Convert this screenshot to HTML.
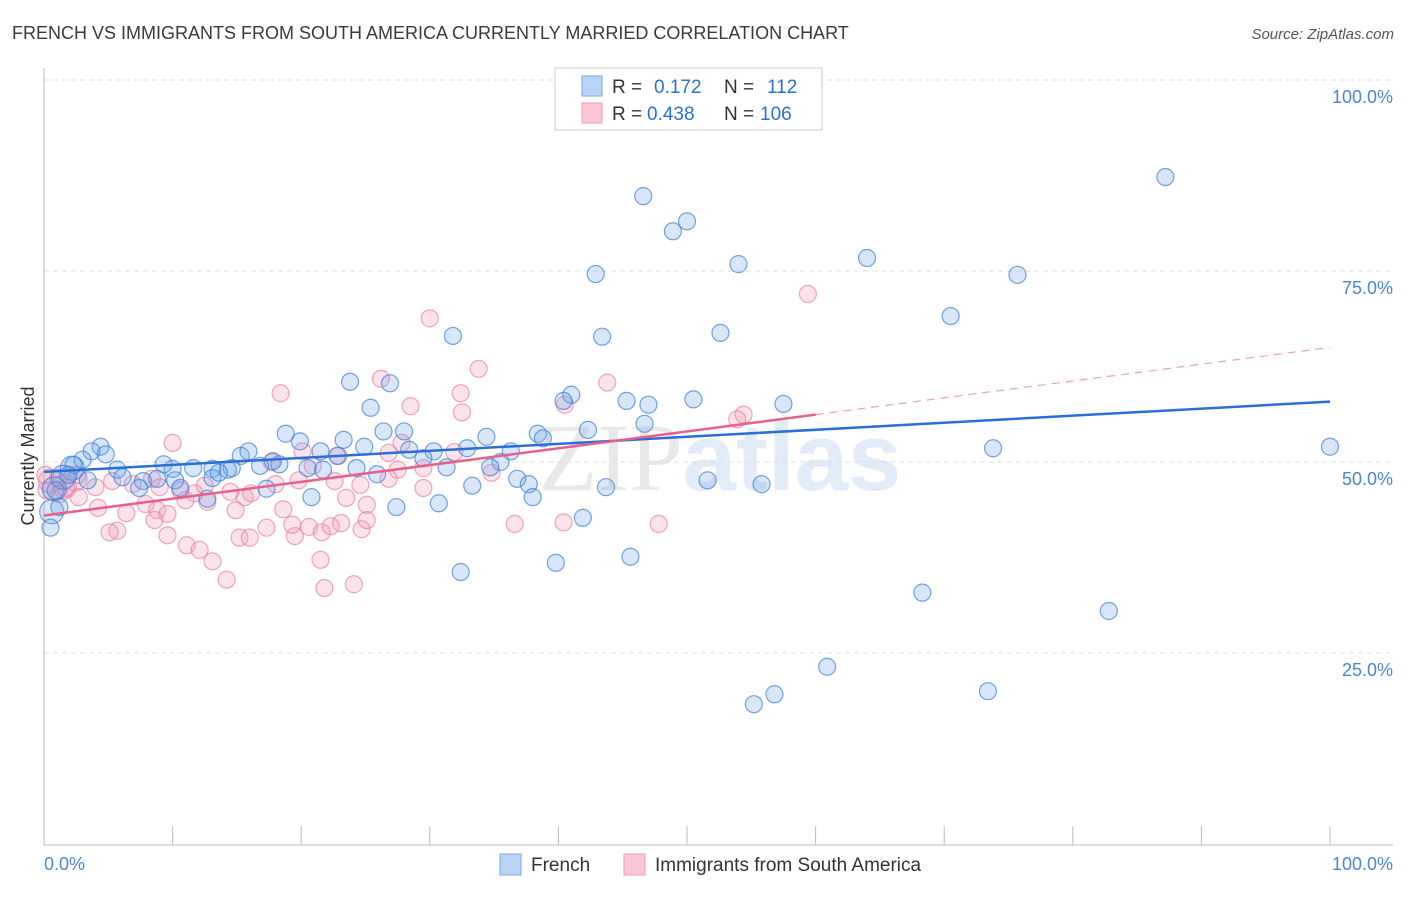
<!DOCTYPE html>
<html><head><meta charset="utf-8"><style>
body{margin:0;background:#fff;font-family:"Liberation Sans",sans-serif}
svg text{font-family:"Liberation Sans",sans-serif}
</style></head><body>
<svg id="chart" width="1406" height="892" xmlns="http://www.w3.org/2000/svg">
<text x="12" y="39" font-size="18" fill="#3a3a3a">FRENCH VS IMMIGRANTS FROM SOUTH AMERICA CURRENTLY MARRIED CORRELATION CHART</text>
<text x="1394" y="39" font-size="15" fill="#555" text-anchor="end" font-style="italic">Source: ZipAtlas.com</text>
<text x="720" y="490" font-size="96" text-anchor="middle"><tspan fill="#e8e8e8" font-family="Liberation Serif">ZIP</tspan><tspan fill="#e1ecf8" font-weight="bold">atlas</tspan></text>
<g id="grid"></g>
<g id="axes"></g>
<g id="pts"></g>
<g id="trends"></g>
<text transform="translate(34,456) rotate(-90)" font-size="18" fill="#333" text-anchor="middle">Currently Married</text>
<g>
<rect x="555" y="68" width="267" height="62" fill="#fff" stroke="#ccc"/>
<rect x="582" y="76" width="20" height="20" fill="#b9d3f5" stroke="#7aa8e6"/>
<rect x="582" y="103" width="20" height="20" fill="#fbc6d6" stroke="#f09ab5"/>
<text x="612" y="93" font-size="19" fill="#333">R =</text>
<text x="654" y="93" font-size="19" fill="#2a6fd6">0.172</text>
<text x="724" y="93" font-size="19" fill="#333">N =</text>
<text x="767" y="93" font-size="19" fill="#2a6fd6">112</text>
<text x="612" y="120" font-size="19" fill="#333">R =</text>
<text x="647" y="120" font-size="19" fill="#2a6fd6">0.438</text>
<text x="724" y="120" font-size="19" fill="#333">N =</text>
<text x="760" y="120" font-size="19" fill="#2a6fd6">106</text>
</g>
<g>
<rect x="500" y="854" width="21" height="21" fill="#b9d3f5" stroke="#7aa8e6"/>
<text x="531" y="871" font-size="19" fill="#333">French</text>
<rect x="624" y="854" width="21" height="21" fill="#fbc6d6" stroke="#f09ab5"/>
<text x="655" y="871" font-size="19" fill="#333">Immigrants from South America</text>
</g>
</svg>
<script>
const yTicks=[25,50,75,100];
const yTickLabels=["25.0%","50.0%","75.0%","100.0%"];
const xTicks=[0,10,20,30,40,50,60,70,80,90,100];
const blueX=[87.2,46.6,50.0,48.9,54.0,64.0,42.9,75.7,70.5,52.6,31.8,43.4,23.8,26.9,41.0,40.4,45.3,50.5,47.0,57.5,25.4,46.7,42.3,26.4,28.0,18.8,38.4,38.8,34.4,19.9,23.3,32.9,30.3,100,73.8,15.3,15.9,21.5,24.9,4.4,3.7,4.8,36.3,22.8,28.4,29.5,3.0,2.3,9.3,17.8,18.3,35.5,11.6,13.1,14.6,20.5,24.3,31.3,34.7,5.7,10.0,16.8,14.3,21.7,6.1,7.7,8.8,10.2,13.1,13.6,25.9,36.8,37.7,51.6,55.8,33.3,43.7,7.4,10.6,17.3,12.7,20.8,38.0,30.7,27.4,41.9,1.2,0.5,32.4,39.8,45.6,68.3,82.8,60.9,73.4,56.8,55.2,1.9,0.9,3.4];
const blueY=[87.3,84.8,81.5,80.2,75.9,76.7,74.6,74.5,69.1,66.9,66.5,66.4,60.5,60.3,58.8,58.0,58.0,58.2,57.5,57.6,57.1,55.0,54.2,54.0,54.0,53.7,53.7,53.1,53.3,52.7,52.9,51.8,51.4,52.0,51.8,50.8,51.4,51.4,52.0,52.0,51.4,51.0,51.4,50.8,51.6,50.5,50.3,49.6,49.7,50.1,49.7,50.0,49.2,49.1,49.2,49.2,49.2,49.3,49.3,49.0,49.1,49.5,49.0,49.0,48.0,47.5,47.8,47.6,47.9,48.6,48.4,47.8,47.1,47.6,47.1,46.9,46.7,46.6,46.6,46.5,45.2,45.4,45.4,44.6,44.1,42.7,44.1,41.4,35.6,36.8,37.6,32.9,30.5,23.2,20.0,19.6,18.3,48.3,46.3,47.6];
const pinkX=[30.0,59.4,33.8,26.2,43.8,18.4,32.4,28.5,40.5,32.5,54.4,53.9,10.0,27.8,20.1,26.8,31.9,17.7,20.9,27.5,34.8,22.9,24.6,1.1,1.7,1.2,0.2,2.6,4.0,5.3,6.9,8.4,9.0,10.6,11.7,12.5,14.5,16.1,18.0,19.8,22.6,26.8,29.5,23.5,25.1,2.7,4.2,6.4,7.9,8.8,9.6,11.0,12.7,14.9,15.6,8.6,18.6,5.7,5.1,9.6,11.1,12.1,13.1,14.2,15.2,16.0,17.3,19.5,19.3,20.6,21.6,22.3,23.1,21.5,21.8,24.1,24.7,25.1,36.6,40.4,47.8,29.5,0.1];
const pinkY=[68.8,72.0,62.2,60.9,60.4,59.0,59.0,57.3,57.5,56.5,56.2,55.6,52.5,52.5,51.4,51.2,51.3,50.0,49.5,49.0,48.6,50.8,47.0,47.9,46.6,45.8,46.3,48.3,46.7,47.5,47.1,47.8,46.7,46.3,45.9,46.9,46.1,45.9,47.1,47.6,47.5,47.8,46.6,45.3,44.4,45.4,44.0,43.3,44.5,43.7,43.2,45.0,44.8,43.7,45.4,42.4,43.8,41.0,40.8,40.4,39.1,38.5,37.0,34.6,40.1,40.1,41.4,40.3,41.8,41.5,40.8,41.6,42.0,37.2,33.5,34.0,41.2,42.4,41.9,42.1,41.9,49.2,48.3];
const bigBlueX=[0.8,2.2,1.5,0.6];
const bigBlueY=[46.5,49.2,48.0,43.5];
const bigPinkX=[0.5,1.6,2.4];
const bigPinkY=[47.5,46.8,47.8];
const blueTrend=[[0,48.7],[100,57.9]];
const pinkTrend=[[0,43.0],[60,56.2]];
const pinkDash=[[60,56.2],[100,65.0]];
const X0=44,X1=1330,Y0=844,Y100=80;
const sx=v=>X0+(X1-X0)*v/100, sy=v=>Y0-(Y0-Y100)*v/100;
const NS="http://www.w3.org/2000/svg";
function mk(tag,attrs,parent){const e=document.createElementNS(NS,tag);for(const k in attrs)e.setAttribute(k,attrs[k]);parent.appendChild(e);return e;}
const grid=document.getElementById('grid'),axes=document.getElementById('axes'),pts=document.getElementById('pts'),tr=document.getElementById('trends');
yTicks.forEach((t,i)=>{
 const l=mk('line',{x1:44,x2:1393,y1:sy(t),y2:sy(t),stroke:'#ddd','stroke-dasharray':'5,4'},grid);
 
 
 const tx=mk('text',{x:1393,y:sy(t)+23,'font-size':18,fill:'#4a86d8','text-anchor':'end'},grid);
 tx.textContent=yTickLabels[i];
 
 
});
const ya=mk('line',{x1:44,x2:44,y1:68,y2:845,stroke:'#bbb'},axes);


const xa=mk('line',{x1:44,x2:1393,y1:845,y2:845,stroke:'#bbb'},axes);


xTicks.forEach(t=>{
 const l=mk('line',{x1:sx(t),x2:sx(t),y1:826,y2:845,stroke:'#bbb'},axes);
 
 
});
[[0,'0.0%',44,'start'],[100,'100.0%',1393,'end']].forEach(a=>{
 const t=mk('text',{x:a[2],y:870,'font-size':18,fill:'#4a86d8','text-anchor':a[3]},axes);
 t.textContent=a[1];
 
 
});
function dots(xs,ys,r,fill,stroke,name){xs.forEach((x,i)=>{
 const c=mk('circle',{cx:sx(x),cy:sy(ys[i]),r:r,fill:fill,stroke:stroke,'stroke-width':1.2},pts);
 
 
});}
const PF='rgba(245,150,180,0.28)',PS='rgba(232,120,155,0.65)',BF='rgba(110,165,235,0.28)',BS='rgba(60,125,215,0.7)';
dots(bigPinkX,bigPinkY,12,PF,PS,'immigrant-point');
dots(pinkX,pinkY,8.5,PF,PS,'immigrant-point');
dots(bigBlueX,bigBlueY,12,BF,BS,'french-point');
dots(blueX,blueY,8.5,BF,BS,'french-point');
function line(p,col,w,dash,name){
 const l=mk('line',{x1:sx(p[0][0]),y1:sy(p[0][1]),x2:sx(p[1][0]),y2:sy(p[1][1]),stroke:col,'stroke-width':w},tr);
 if(dash)l.setAttribute('stroke-dasharray',dash);
 
 
}
line(blueTrend,'#2a6fd6',2.5,null,'french-trend-line');
line(pinkTrend,'#e8608a',2.5,null,'immigrant-trend-line');
line(pinkDash,'#eba0b8',1.2,'8,6','immigrant-trend-extension');
</script>
</body></html>
